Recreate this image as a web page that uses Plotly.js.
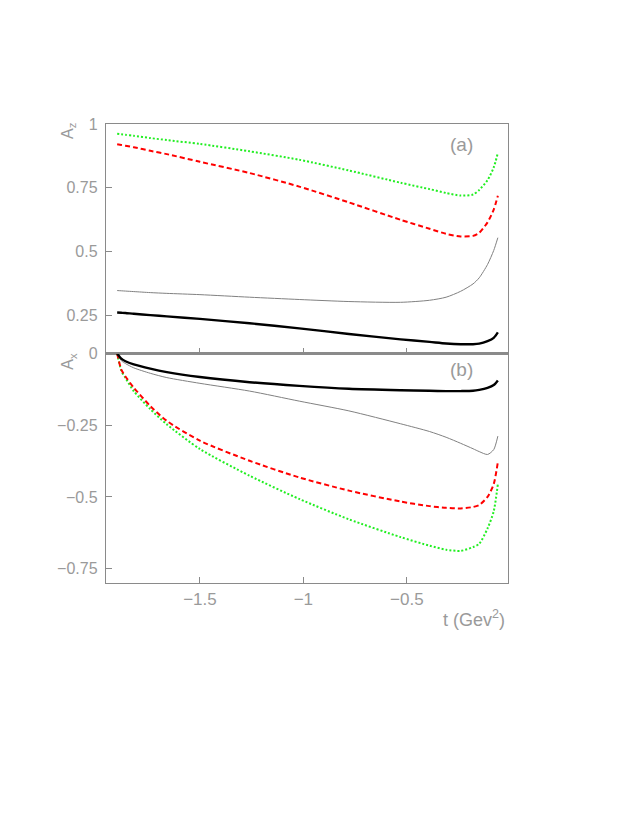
<!DOCTYPE html>
<html>
<head>
<meta charset="utf-8">
<script src="https://cdn.plot.ly/plotly-3.0.1.min.js"></script>
<style>html,body{margin:0;padding:0;background:#fff;}#chart{width:632px;height:817px;}</style>
</head>
<body>
<div id="chart"></div>
<script>
// momentum transfer t (GeV^2)
const t = [-1.90, -1.88, -1.86, -1.82, -1.74, -1.66, -1.5, -1.26, -1.02, -0.78, -0.53, -0.39, -0.31, -0.24, -0.18, -0.15, -0.11, -0.08, -0.06];

// panel (a): A_z
const azBlack = [0.262, 0.261, 0.260, 0.257, 0.252, 0.247, 0.237, 0.220, 0.200, 0.178, 0.157, 0.147, 0.141, 0.138, 0.138, 0.140, 0.150, 0.163, 0.184];
const azGray  = [0.348, 0.347, 0.346, 0.344, 0.340, 0.337, 0.332, 0.322, 0.313, 0.305, 0.302, 0.310, 0.322, 0.345, 0.374, 0.398, 0.450, 0.505, 0.555];
const azRed   = [0.921, 0.918, 0.915, 0.909, 0.895, 0.882, 0.852, 0.808, 0.755, 0.693, 0.625, 0.590, 0.570, 0.560, 0.562, 0.574, 0.615, 0.665, 0.719];
const azGreen = [0.962, 0.960, 0.958, 0.954, 0.945, 0.937, 0.922, 0.893, 0.860, 0.818, 0.770, 0.745, 0.730, 0.720, 0.724, 0.742, 0.780, 0.830, 0.887];

// panel (b): A_x
const axBlack = [0, -0.018, -0.027, -0.038, -0.053, -0.065, -0.082, -0.100, -0.113, -0.123, -0.128, -0.130, -0.131, -0.131, -0.130, -0.127, -0.120, -0.110, -0.094];
const axGray  = [0, -0.025, -0.035, -0.050, -0.069, -0.084, -0.104, -0.131, -0.166, -0.200, -0.245, -0.272, -0.292, -0.313, -0.332, -0.342, -0.352, -0.335, -0.288];
const axRed   = [0, -0.056, -0.080, -0.119, -0.183, -0.235, -0.304, -0.374, -0.432, -0.478, -0.516, -0.532, -0.538, -0.540, -0.535, -0.528, -0.500, -0.455, -0.378];
const axGreen = [0, -0.060, -0.085, -0.131, -0.194, -0.247, -0.333, -0.426, -0.507, -0.578, -0.640, -0.670, -0.684, -0.688, -0.675, -0.663, -0.610, -0.550, -0.455];

const xTicks = [-1.5, -1, -0.5];
const xTickText = ['\u22121.5', '\u22121', '\u22120.5'];
const azTicks = [0.25, 0.5, 0.75, 1];
const azTickText = ['0.25', '0.5', '0.75', '1'];
const axTicks = [0, -0.25, -0.5, -0.75];
const axTickText = ['0', '\u22120.25', '\u22120.5', '\u22120.75'];

const styles = {
  black: {color: '#000000', width: 2.4},
  gray:  {color: '#808080', width: 1},
  red:   {color: '#ff0000', width: 2, dash: '5px,3px'},
  green: {color: '#22ee22', width: 2, dash: '2px,2px'}
};

function tr(y, st, xa, ya) {
  return {x: t, y: y, mode: 'lines', xaxis: xa, yaxis: ya, hoverinfo: 'skip',
          line: Object.assign({shape: 'spline', smoothing: 0.7}, st)};
}

const data = [
  tr(azGreen, styles.green, 'x', 'y'),
  tr(azRed, styles.red, 'x', 'y'),
  tr(azGray, styles.gray, 'x', 'y'),
  tr(azBlack, styles.black, 'x', 'y'),
  tr(axGreen, styles.green, 'x2', 'y2'),
  tr(axRed, styles.red, 'x2', 'y2'),
  tr(axGray, styles.gray, 'x2', 'y2'),
  tr(axBlack, styles.black, 'x2', 'y2')
];

const axCol = '#8a8a8a';
const fam = 'Liberation Sans, Arial, sans-serif';
const txtCol = '#9a9a9a';
const yFont = {family: fam, size: 16, color: txtCol};
const xFont = {family: fam, size: 17, color: txtCol};
const xrange = [-1.954, -0.011];

const common = {showline: true, linecolor: axCol, linewidth: 1.2, mirror: true,
  ticks: 'inside', ticklen: 6, tickcolor: axCol, tickwidth: 1,
  showgrid: false, zeroline: false};

const layout = {
  width: 632, height: 817,
  margin: {l: 106, r: 124, t: 124, b: 234},
  paper_bgcolor: '#ffffff', plot_bgcolor: '#ffffff',
  showlegend: false,
  font: yFont,
  xaxis: Object.assign({}, common, {domain: [0, 1], anchor: 'y', range: xrange,
    tickvals: xTicks, showticklabels: false}),
  yaxis: Object.assign({}, common, {domain: [0.5, 1], anchor: 'x', range: [0.1016, 1],
    tickvals: azTicks, ticktext: azTickText, tickfont: yFont, ticklabelstandoff: 4}),
  xaxis2: Object.assign({}, common, {domain: [0, 1], anchor: 'y2', range: xrange,
    tickvals: xTicks, ticktext: xTickText, tickfont: xFont}),
  yaxis2: Object.assign({}, common, {domain: [0, 0.5], anchor: 'x2', range: [-0.8, 0],
    tickvals: axTicks, ticktext: axTickText, tickfont: yFont, ticklabelstandoff: 4}),
  annotations: [
    {xref: 'paper', yref: 'paper', x: 0.885, y: 0.955, xanchor: 'center', yanchor: 'middle',
     text: '(a)', showarrow: false, font: {family: fam, size: 19, color: txtCol}},
    {xref: 'paper', yref: 'paper', x: 0.885, y: 0.465, xanchor: 'center', yanchor: 'middle',
     text: '(b)', showarrow: false, font: {family: fam, size: 19, color: txtCol}},
    {xref: 'paper', yref: 'paper', x: -0.092, y: 0.985, xanchor: 'center', yanchor: 'middle',
     text: 'A<sub>z</sub>', showarrow: false, textangle: -90, font: {family: fam, size: 16, color: txtCol}},
    {xref: 'paper', yref: 'paper', x: -0.092, y: 0.482, xanchor: 'center', yanchor: 'middle',
     text: 'A<sub>x</sub>', showarrow: false, textangle: -90, font: {family: fam, size: 16, color: txtCol}},
    {xref: 'paper', yref: 'paper', x: 0.997, y: -0.078, xanchor: 'right', yanchor: 'middle',
     text: 't (Gev<sup>2</sup>)', showarrow: false, font: {family: fam, size: 18, color: txtCol}}
  ]
};

Plotly.newPlot('chart', data, layout, {staticPlot: true, displayModeBar: false});
</script>
</body>
</html>
